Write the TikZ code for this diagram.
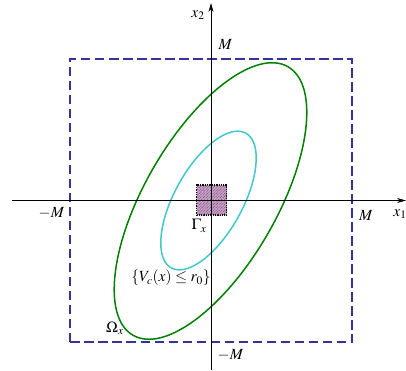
\documentclass[tikz,border=0pt]{standalone}
\usepackage{mathptmx}
\usetikzlibrary{arrows.meta,patterns.meta}
\definecolor{boxblue}{RGB}{51,51,153}
\definecolor{ellgreen}{RGB}{0,128,0}
\definecolor{ellcyan}{RGB}{64,200,204}
\definecolor{sqpink}{RGB}{205,165,205}
\definecolor{sqpurple}{RGB}{115,75,115}
\begin{document}
\begin{tikzpicture}[x=1pt,y=1pt,
  font=\fontsize{15.5}{18}\selectfont,
  axisline/.style={line width=0.7pt,-{Stealth[length=9pt,width=5pt]}},
  boundbox/.style={draw=boxblue,line width=1.5pt,dash pattern=on 9.5pt off 4.5pt},
  bigell/.style={draw=ellgreen,line width=1.5pt},
  smallell/.style={draw=ellcyan,line width=1.5pt},
  gammabox/.style={draw=black,line width=1.3pt,densely dotted,fill=sqpink,
    postaction={pattern={Lines[angle=45,distance=2pt,line width=0.6pt]},pattern color=sqpurple},
    minimum size=30pt,inner sep=0pt},
  lbl/.style={inner sep=1pt}]
\useasboundingbox (-211,-169.5) rectangle (195,200.5);
% box Omega
\coordinate (bl) at (-141,-141.5);
\coordinate (tr) at (141,141.5);
\draw[boundbox] (bl) rectangle (tr);
% ellipses
\draw[bigell,rotate around={60:(-0.5,-0.5)}] (-0.5,-0.5) ellipse (155 and 66);
\draw[smallell,rotate around={61:(-2.5,0)}] (-2.5,0) ellipse (77 and 34);
% Gamma box
\node[gammabox] (g) at (0.5,0.5) {};
% axes
\coordinate (xl) at (-199,0);
\coordinate (xr) at (195,0);
\coordinate (yb) at (0,-169.5);
\coordinate (yt) at (0,197.5);
\draw[axisline] (xl) -- (xr);
\draw[axisline] (yb) -- (yt);
% labels
\node[lbl] (x2) at (-13,185.5) {$x_2$};
\node[lbl] (x1) at (189,-13.5) {$x_1$};
\node[lbl] (mt) at (14.5,156.5) {$M$};
\node[lbl] (mr) at (155,-14.5) {$M$};
\node[lbl] (ml) at (-159.5,-13) {$-M$};
\node[lbl] (mb) at (19.5,-154.5) {$-M$};
\node[lbl] (gl) at (-12,-25.5) {$\Gamma_x$};
\node[lbl] (vl) at (-40,-77.5) {$\{V_c(x)\leq r_0\}$};
\node[lbl] (ol) at (-96,-127.5) {$\Omega_x$};
\end{tikzpicture}
\end{document}
